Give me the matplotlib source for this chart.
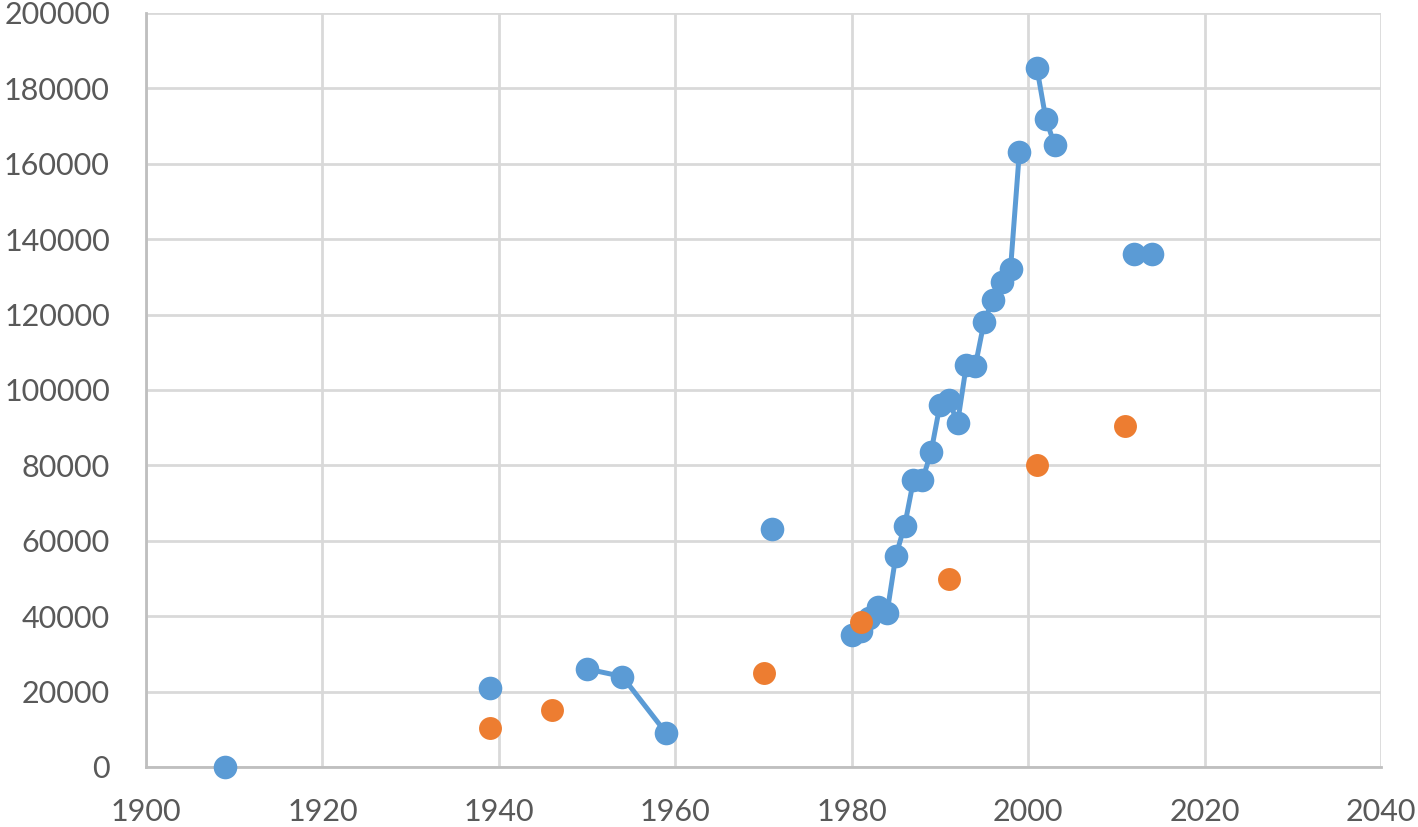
import numpy as np
import matplotlib
matplotlib.use("Agg")
import matplotlib.pyplot as plt

# blue series - NaN rows break the line like empty rows in the sheet
blue_years = [1909, np.nan, 1939, np.nan, 1950, 1954, 1959, np.nan, 1971, np.nan,
              1980, 1981, 1982, 1983, 1984, 1985, 1986, 1987, 1988, 1989,
              1990, 1991, 1992, 1993, 1994, 1995, 1996, 1997, 1998, 1999, np.nan,
              2001, 2002, 2003, np.nan, 2012, np.nan, 2014]
blue_vals = [0, np.nan, 21000, np.nan, 26000, 24000, 8900, np.nan, 63000, np.nan,
             35000, 36000, 39500, 42500, 40800, 56000, 64000, 76000, 76000, 83600,
             96000, 97300, 91300, 106700, 106300, 118000, 124000, 128600, 132000, 163000, np.nan,
             185300, 172000, 165000, np.nan, 136200, np.nan, 136000]

# orange series - points only
orange_years = [1939, 1946, 1970, 1981, 1991, 2001, 2011]
orange_vals = [10300, 15000, 25000, 38500, 50000, 80000, 90500]

x_ticks = list(range(1900, 2041, 20))
y_ticks = list(range(0, 200001, 20000))

plt.rcParams['font.family'] = ['Lato', 'DejaVu Sans']

fig = plt.figure(figsize=(14.18, 8.27), dpi=100)
ax = fig.add_axes([146 / 1418, 1 - 767 / 827, (1381 - 146) / 1418, (767 - 13) / 827])

ax.plot(blue_years, blue_vals, color='#5B9BD5', linewidth=3.6, marker='o',
        markersize=17, markeredgewidth=0, clip_on=False, zorder=3)
ax.plot(orange_years, orange_vals, linestyle='none', color='#ED7D31', marker='o',
        markersize=16.5, markeredgewidth=0, clip_on=False, zorder=4)

ax.set_xlim(1900, 2040)
ax.set_ylim(0, 200000)
ax.set_xticks(x_ticks)
ax.set_yticks(y_ticks)
ax.set_xticklabels([str(t) for t in x_ticks])
ax.set_yticklabels([str(t) for t in y_ticks])

ax.grid(True, color='#d9d9d9', linewidth=2.0)
ax.set_axisbelow(True)
for s in ['top', 'right']:
    ax.spines[s].set_visible(False)
for s in ['left', 'bottom']:
    ax.spines[s].set_color('#bfbfbf')
    ax.spines[s].set_linewidth(2.0)

ax.tick_params(axis='both', length=0, labelsize=22, labelcolor='#595959')
ax.tick_params(axis='y', pad=26)
ax.tick_params(axis='x', pad=22)

fig.savefig('out.png', dpi=100)
